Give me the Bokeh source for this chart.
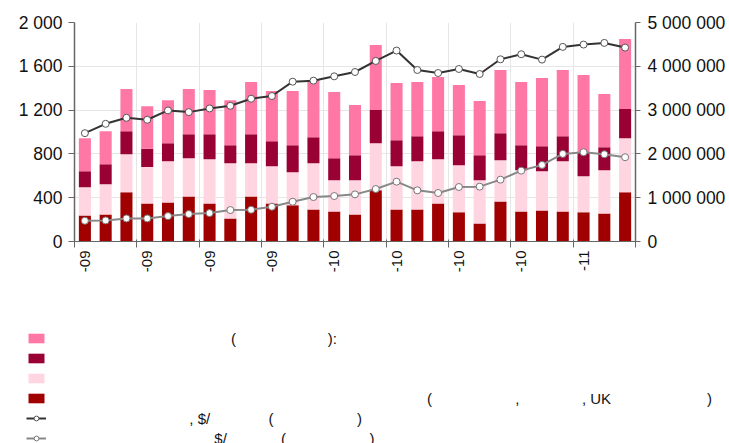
import math
from bokeh.plotting import figure
from bokeh.layouts import column
from bokeh.models import (Range1d, LinearAxis, FixedTicker, Legend, LegendItem,
                          ColumnDataSource)
from bokeh.embed import file_html
from bokeh.resources import INLINE

# ---------------- data ----------------
red_seg = [238, 247, 449, 348, 357, 412, 348, 211, 412, 348, 330, 293, 275, 247,
           467, 293, 293, 348, 266, 165, 366, 275, 284, 275, 266, 256, 449]
light_seg = [257, 275, 348, 333, 376, 348, 403, 503, 302, 339, 302, 421, 284, 312,
             431, 394, 440, 403, 430, 394, 376, 375, 357, 458, 329, 394, 494]
mag_seg = [146, 183, 210, 165, 165, 220, 229, 165, 266, 229, 247, 239, 201, 229,
           302, 238, 229, 256, 275, 229, 247, 229, 229, 229, 220, 211, 266]
pink_seg = [302, 302, 385, 390, 393, 412, 403, 412, 476, 458, 495, 522, 605, 458,
            595, 522, 494, 495, 458, 494, 577, 577, 623, 604, 705, 485, 641]
dark_line = [2473000, 2687000, 2824000, 2779000, 2992000, 2954000, 3038000, 3099000,
             3260000, 3321000, 3649000, 3672000, 3771000, 3870000, 4122000, 4359000,
             3916000, 3847000, 3939000, 3824000, 4160000, 4275000, 4153000, 4443000,
             4496000, 4534000, 4427000]
gray_line = [473000, 481000, 527000, 527000, 580000, 626000, 649000, 718000, 725000,
             794000, 908000, 1015000, 1038000, 1076000, 1198000, 1366000, 1168000,
             1107000, 1244000, 1252000, 1412000, 1618000, 1748000, 2000000, 2038000,
             1992000, 1924000]
label_bars = [0, 3, 6, 9, 12, 15, 18, 21, 24]
tick_labels = ["-09", "-09", "-09", "-09", "-10", "-10", "-10", "-10", "-11"]
left_ticks = [0, 400, 800, 1200, 1600, 2000]
left_labels = ["0", "400", "800", "1 200", "1 600", "2 000"]
right_ticks = [0, 1000000, 2000000, 3000000, 4000000, 5000000]
right_labels = ["0", "1 000 000", "2 000 000", "3 000 000", "4 000 000", "5 000 000"]
# visible fragments of the legend texts (page x of each fragment)
legend_fragments = [
    [(233, "("), (330, "):")],
    [],
    [],
    [(430, "("), (518, ","), (587, ", UK"), (715, ")")],
    [(190, ", $/"), (270, "("), (360, ")")],
    [(214, "$/"), (284, "("), (374, ")")],
]

FONT = "Liberation Sans"
LEG_PX = 15
NB = "\u00a0"
NB_W = 4.21          # measured width of one no-break space at 15px
WID = {"(": 0.333, ")": 0.333, ",": 0.278, ":": 0.278, "$": 0.556, "/": 0.278,
       "U": 0.722, "K": 0.667, " ": 0.278}
COLORS = ["#A00000", "#FFD5E1", "#990033", "#FF78A5"]


def build_label(frags, start=56):
    s, cur = "", 0.0
    for tx, txt in frags:
        k = max(0, round((tx - start - cur) / NB_W))
        s += NB * k + txt.replace(" ", NB)
        cur += k * NB_W + sum(WID.get(c, 0.556) for c in txt) * LEG_PX
    return s if s else NB


n = len(red_seg)
src = ColumnDataSource(dict(x=[i + 0.5 for i in range(n)], red=red_seg, light=light_seg,
                            mag=mag_seg, pink=pink_seg, dark=dark_line, gray=gray_line))

TOP_H = 290
p = figure(width=729, height=TOP_H, output_backend="svg", toolbar_location=None,
           title=None, x_range=Range1d(0, n), y_range=Range1d(0, 2000),
           min_border_left=74, min_border_right=94, min_border_top=22,
           min_border_bottom=TOP_H - 241, outline_line_color=None)
p.extra_y_ranges = {"right": Range1d(0, 5000000)}
p.frame_align = False

bars = p.vbar_stack(["red", "light", "mag", "pink"], x="x", width=0.58, source=src,
                    fill_color=COLORS, line_color=None)

p.line("x", "dark", source=src, y_range_name="right", line_color="#333333", line_width=2)
p.scatter("x", "dark", source=src, y_range_name="right", size=7, fill_color="white",
          line_color="#555555", line_width=1)
p.line("x", "gray", source=src, y_range_name="right", line_color="#888888", line_width=2)
p.scatter("x", "gray", source=src, y_range_name="right", size=7, fill_color="white",
          line_color="#777777", line_width=1)

# x axis
xa = p.xaxis[0]
xa.ticker = FixedTicker(ticks=[b + 0.5 for b in label_bars],
                        minor_ticks=list(range(0, n + 1, 3)))
xa.major_label_overrides = {b + 0.5: t for b, t in zip(label_bars, tick_labels)}
xa.major_tick_line_color = None
xa.major_tick_out = 6
xa.major_tick_in = 0
xa.minor_tick_out = 6
xa.minor_tick_in = 2
xa.minor_tick_line_color = "#666666"
xa.major_label_orientation = math.pi / 2
xa.major_label_standoff = 3
xa.major_label_text_font = FONT
xa.major_label_text_font_size = "15px"
xa.major_label_text_color = "#111111"
xa.axis_line_color = "#666666"

# left axis
ya = p.yaxis[0]
ya.ticker = FixedTicker(ticks=left_ticks)
ya.major_label_overrides = dict(zip(left_ticks, left_labels))
ya.major_tick_out = 6
ya.major_tick_in = 0
ya.minor_tick_line_color = None
ya.major_label_standoff = 6
ya.major_label_text_font = FONT
ya.major_label_text_font_size = "17.5px"
ya.major_label_text_color = "#111111"
ya.axis_line_color = "#666666"
ya.axis_line_width = 1.5
ya.major_tick_line_color = "#666666"

# right axis
ra = LinearAxis(y_range_name="right", ticker=FixedTicker(ticks=right_ticks))
ra.major_label_overrides = dict(zip(right_ticks, right_labels))
ra.major_tick_out = 5
ra.major_tick_in = 0
ra.minor_tick_line_color = None
ra.major_label_standoff = 7
ra.major_label_text_font = FONT
ra.major_label_text_font_size = "17.5px"
ra.major_label_text_color = "#111111"
ra.axis_line_color = "#666666"
ra.axis_line_width = 1.5
ra.major_tick_line_color = "#666666"
p.add_layout(ra, "right")

# grids
p.xgrid.ticker = FixedTicker(ticks=list(range(3, n, 3)))
p.ygrid.ticker = FixedTicker(ticks=left_ticks[1:])
p.xgrid.grid_line_color = "#e6e6e6"
p.ygrid.grid_line_color = "#e6e6e6"

# ---------------- legend panel ----------------
BOT_H = 443 - TOP_H
q = figure(width=729, height=BOT_H, output_backend="svg", toolbar_location=None,
           title=None, x_axis_type=None, y_axis_type=None,
           x_range=Range1d(0, 1), y_range=Range1d(0, 1),
           min_border_left=0, min_border_right=0, min_border_top=0,
           min_border_bottom=0, outline_line_color=None)
q.frame_align = False
q.xgrid.visible = False
q.ygrid.visible = False
# proxy renderers (outside the visible range) that only provide the legend glyphs
proxy = ColumnDataSource(dict(x=[-5.0], y=[-5.0], t=[-4.0]))
proxy_bars = [q.vbar(x="x", top="t", bottom="y", width=0.5, source=proxy, fill_color=c,
                     line_color=None) for c in COLORS]
ql1 = q.line("x", "y", source=proxy, line_color="#333333", line_width=2)
qs1 = q.scatter("x", "y", source=proxy, size=7, fill_color="white",
                line_color="#555555", line_width=1)
ql2 = q.line("x", "y", source=proxy, line_color="#888888", line_width=2)
qs2 = q.scatter("x", "y", source=proxy, size=7, fill_color="white",
                line_color="#777777", line_width=1)

labels = [build_label(f) for f in legend_fragments]
items = [
    LegendItem(label=labels[0], renderers=[proxy_bars[3]]),
    LegendItem(label=labels[1], renderers=[proxy_bars[2]]),
    LegendItem(label=labels[2], renderers=[proxy_bars[1]]),
    LegendItem(label=labels[3], renderers=[proxy_bars[0]]),
    LegendItem(label=labels[4], renderers=[ql1, qs1]),
    LegendItem(label=labels[5], renderers=[ql2, qs2]),
]
leg_top = 328 - TOP_H
leg = Legend(items=items, location=(26, BOT_H - leg_top - 120), padding=0, margin=0,
             spacing=0, glyph_width=20, glyph_height=12, label_height=20,
             label_standoff=10, label_text_font=FONT,
             label_text_font_size=f"{LEG_PX}px", label_text_color="#111111",
             border_line_color=None, background_fill_alpha=0)
q.add_layout(leg, "center")

open("out.html", "w").write(file_html(column(p, q, spacing=0), INLINE))
